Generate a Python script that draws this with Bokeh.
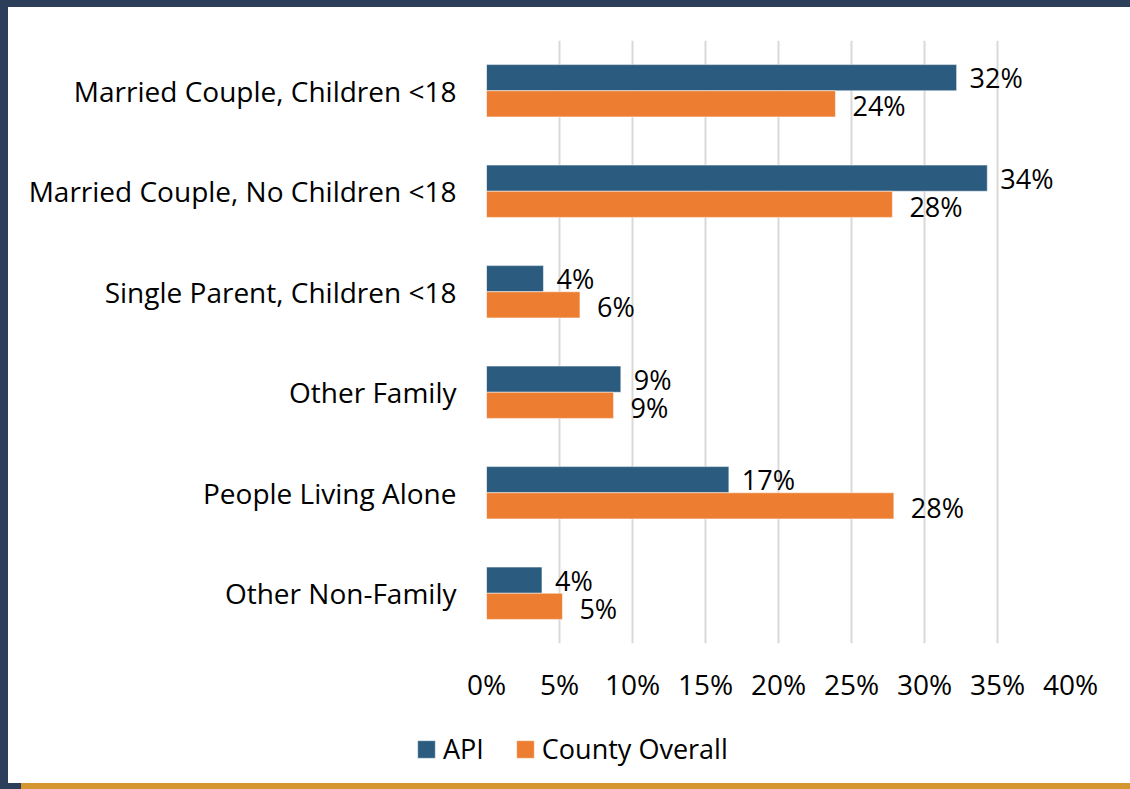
from bokeh.plotting import figure
from bokeh.models import (FactorRange, Range1d, FixedTicker, PrintfTickFormatter,
                          Legend, LegendItem, ColumnDataSource, Div)
from bokeh.transform import dodge
from bokeh.layouts import column, row
from bokeh.core.properties import value
from bokeh.embed import file_html
from bokeh.resources import INLINE

categories = ["Married Couple, Children <18", "Married Couple, No Children <18",
              "Single Parent, Children <18", "Other Family",
              "People Living Alone", "Other Non-Family"]
api = [32.2, 34.3, 3.9, 9.2, 16.6, 3.8]
county = [23.9, 27.8, 6.4, 8.7, 27.9, 5.2]
api_labels = ["32%", "34%", "4%", "9%", "17%", "4%"]
county_labels = ["24%", "28%", "6%", "9%", "28%", "5%"]
x_ticks = [0, 5, 10, 15, 20, 25, 30, 35, 40]
series_names = ["API", "County Overall"]

FONT = "Open Sans"
BLUE = "#2b5b7e"
ORANGE = "#ed7d31"
NAVY = "#2c3e5a"
GOLD = "#d6962f"

src = ColumnDataSource(dict(cat=categories, api=api, county=county,
                            api_lbl=api_labels, county_lbl=county_labels))

p = figure(y_range=FactorRange(factors=categories[::-1]), x_range=Range1d(0, 40),
           width=1122, height=708, output_backend="svg", toolbar_location=None,
           min_border_left=478, min_border_right=60, min_border_top=33,
           min_border_bottom=72)
p.y_range.range_padding = 0
p.outline_line_color = None
p.background_fill_color = "white"
p.border_fill_color = "white"

r1 = p.hbar(y=dodge("cat", 0.13, range=p.y_range), right="api", left=0, height=0.26,
            source=src, fill_color=BLUE, line_color="#ffffff", line_alpha=0.5, line_width=1)
r2 = p.hbar(y=dodge("cat", -0.13, range=p.y_range), right="county", left=0, height=0.26,
            source=src, fill_color=ORANGE, line_color="#ffffff", line_alpha=0.5, line_width=1)

p.text(x="api", y=dodge("cat", 0.13, range=p.y_range), text="api_lbl", source=src,
       x_offset=13, text_baseline="middle", text_font=value(FONT), text_font_size="27px",
       text_color="#000000")
p.text(x="county", y=dodge("cat", -0.13, range=p.y_range), text="county_lbl", source=src,
       x_offset=17, y_offset=2, text_baseline="middle", text_font=value(FONT),
       text_font_size="27px", text_color="#000000")

p.xaxis.ticker = FixedTicker(ticks=x_ticks)
p.xaxis.formatter = PrintfTickFormatter(format="%d%%")
for ax in (p.xaxis[0], p.yaxis[0]):
    ax.axis_line_color = None
    ax.major_tick_line_color = None
    ax.minor_tick_line_color = None
    ax.major_tick_in = 0
    ax.major_tick_out = 0
    ax.major_label_text_font = FONT
    ax.major_label_text_color = "#000000"
p.xaxis.major_label_text_font_size = "28px"
p.yaxis.major_label_text_font_size = "28px"
p.xaxis.major_label_standoff = 21
p.yaxis.major_label_standoff = 30

p.xgrid.grid_line_color = "#d9d9d9"
p.xgrid.grid_line_width = 2
p.ygrid.grid_line_color = None

# legend strip: a separate small figure; its swatch renderers reuse the series
# data but are hidden, so only the legend entries show
lg = figure(width=1122, height=68, output_backend="svg", toolbar_location=None,
            x_range=Range1d(0, 40), y_range=Range1d(0, 1),
            min_border=0, min_border_left=0, min_border_right=0,
            min_border_top=0, min_border_bottom=0)
lg.axis.visible = False
lg.grid.visible = False
lg.outline_line_color = None
lg.background_fill_color = "white"
lg.border_fill_color = "white"
d1 = lg.hbar(y=0.5, right="api", left=0, height=0.2, source=src, fill_color=BLUE,
             line_color="#ffffff", line_alpha=0.5, visible=False)
d2 = lg.hbar(y=0.5, right="county", left=0, height=0.2, source=src, fill_color=ORANGE,
             line_color="#ffffff", line_alpha=0.5, visible=False)
legend = Legend(items=[LegendItem(label=series_names[0], renderers=[d1], index=0),
                       LegendItem(label=series_names[1], renderers=[d2], index=0)],
                orientation="horizontal", location=(407, 16),
                border_line_color=None, background_fill_alpha=0,
                inactive_fill_alpha=0, click_policy="none",
                glyph_width=22, glyph_height=22, label_standoff=6, spacing=30,
                padding=0, margin=0, label_text_font=FONT, label_text_font_size="27px",
                label_text_color="#000000")
lg.add_layout(legend)

top_bar = Div(width=1130, height=7, margin=0, styles={"background-color": NAVY})
left_bar1 = Div(width=8, height=708, margin=0, styles={"background-color": NAVY})
left_bar2 = Div(width=8, height=68, margin=0, styles={"background-color": NAVY})
corner = Div(width=21, height=6, margin=0, styles={"background-color": NAVY})
gold = Div(width=1109, height=6, margin=0, styles={"background-color": GOLD})
layout = column(top_bar,
                row(left_bar1, p, spacing=0),
                row(left_bar2, lg, spacing=0),
                row(corner, gold, spacing=0),
                spacing=0)

open("out.html", "w").write(file_html(layout, INLINE))
